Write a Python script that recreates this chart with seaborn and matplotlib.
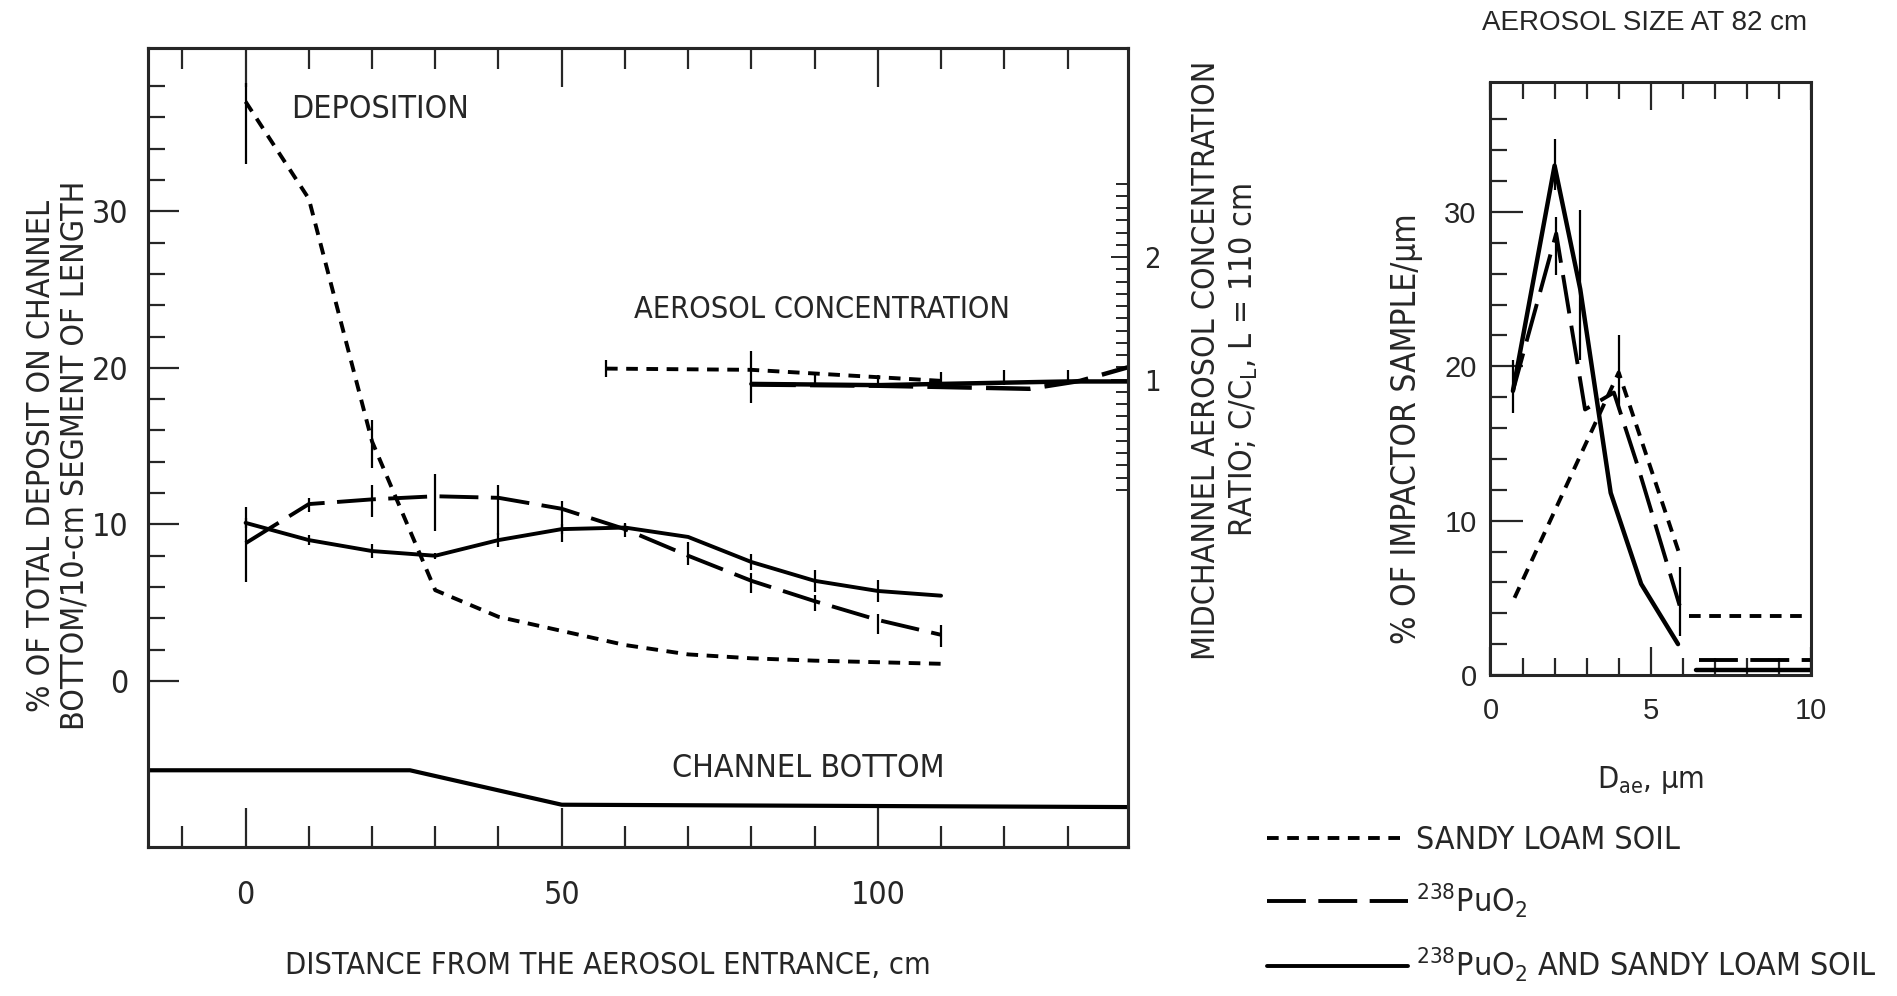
import matplotlib
matplotlib.use("Agg")
import matplotlib.pyplot as plt
from matplotlib.lines import Line2D
from matplotlib import font_manager
import numpy as np
import seaborn as sns

# ---- deposition along the channel (% of total deposit per 10-cm segment) ----
dist = [0, 10, 20, 30, 40, 50, 60, 70, 80, 90, 100, 110]
dep_soil = [37.0, 30.8, 15.3, 5.8, 4.1, 3.2, 2.3, 1.7, 1.45, 1.3, 1.2, 1.1]
dep_soil_lo = [4.0, 0, 1.7, 0, 0, 0, 0, 0, 0, 0, 0, 0]
dep_soil_hi = [1.2, 0, 1.4, 0, 0, 0, 0, 0, 0, 0, 0, 0]
dep_puo2 = [8.8, 11.3, 11.6, 11.8, 11.7, 11.0, 9.7, 8.0, 6.4, 5.1, 3.9, 2.95]
dep_puo2_lo = [2.5, 0.5, 1.1, 2.2, 2.4, 2.1, 0.5, 0.6, 0.8, 0.6, 0.9, 0.75]
dep_puo2_hi = [2.3, 0.4, 0.9, 1.4, 0.8, 0.5, 0.3, 0.9, 0.5, 0.4, 0.4, 0.65]
dep_mix = [10.1, 9.0, 8.3, 8.0, 9.0, 9.7, 9.8, 9.2, 7.6, 6.4, 5.75, 5.45]
dep_mix_err = [0.3, 0.3, 0.45, 0.2, 0.45, 0.3, 0.3, 0.0, 0.5, 0.7, 0.7, 0.0]

# ---- midchannel aerosol concentration ratio C/C_L ----
conc_soil_x = [57, 80, 90, 100, 110]
conc_soil = [1.09, 1.08, 1.05, 1.02, 0.99]
conc_soil_lo = [0.07, 0.27, 0, 0, 0]
conc_soil_hi = [0.07, 0.15, 0, 0, 0]
conc_puo2_x = [80, 90, 100, 110, 124, 132, 139.5]
conc_puo2 = [0.96, 0.955, 0.95, 0.94, 0.925, 0.99, 1.1]
conc_mix_x = [80, 90, 100, 110, 120, 130, 139.5]
conc_mix = [0.965, 0.96, 0.955, 0.965, 0.975, 0.985, 0.985]
conc_mix_lo = [0, 0.02, 0.02, 0.02, 0.02, 0.02, 0]
conc_mix_hi = [0, 0.1, 0.08, 0.1, 0.1, 0.09, 0]

# ---- channel bottom profile (schematic) ----
bottom_x = [-15.5, 26, 50, 139.5]
bottom_y = [-5.7, -5.7, -7.9, -8.05]

# ---- aerosol size distribution at 82 cm ----
size_soil_x = [0.75, 4.0, 5.9]
size_soil = [5.0, 19.6, 7.8]
size_soil_err = [0, 2.4, 0]
size_soil_tail_x = [6.2, 10.0]
size_soil_tail = [3.8, 3.8]
size_puo2_x = [0.7, 2.05, 2.95, 3.85, 4.6, 5.9]
size_puo2 = [18.4, 28.6, 17.2, 18.3, 13.5, 4.5]
size_puo2_lo = [0, 2.7, 0, 0, 0, 2.0]
size_puo2_hi = [0, 1.1, 0, 0, 0, 2.5]
size_puo2_tail_x = [6.5, 10.0]
size_puo2_tail = [1.0, 1.0]
size_mix_x = [0.7, 2.0, 2.8, 3.75, 4.7, 5.85]
size_mix = [18.4, 33.0, 25.0, 11.8, 5.9, 2.0]
size_mix_lo = [1.4, 1.6, 4.6, 0, 0, 0]
size_mix_hi = [2.0, 1.7, 5.1, 0, 0, 0]
size_mix_tail_x = [6.4, 10.0]
size_mix_tail = [0.35, 0.35]

legend_labels = ["SANDY LOAM SOIL", r"$^{238}$PuO$_2$", r"$^{238}$PuO$_2$ AND SANDY LOAM SOIL"]

sns.set_theme(style="ticks")
installed = {f.name for f in font_manager.fontManager.ttflist}
NARROW = [n for n in ["DejaVu Sans Condensed", "Liberation Sans Narrow"] if n in installed] + ["DejaVu Sans"]
REG = ["Liberation Sans", "DejaVu Sans"]
plt.rcParams["font.family"] = NARROW
plt.rcParams["font.stretch"] = "condensed"
plt.rcParams["mathtext.fontset"] = "custom"
plt.rcParams["mathtext.rm"] = NARROW[0]
plt.rcParams["mathtext.it"] = NARROW[0]
plt.rcParams["axes.linewidth"] = 2.2

SHORT = (0, (3.0, 2.2))
LONG = (0, (10, 3.2))
LW = 2.8
EW = 1.6
FS = 23

fig = plt.figure(figsize=(18.97, 9.96), dpi=100)
ax = fig.add_axes([0.0778, 0.1496, 0.5166, 0.8018])
ax2 = ax.twinx()
axs = fig.add_axes([0.7857, 0.3223, 0.1690, 0.5951])


def line(a, x, y, ls, lw=LW):
    sns.lineplot(x=x, y=y, ax=a, color="black", linewidth=lw, linestyle=ls,
                 sort=False, estimator=None, legend=False)


def bars(a, x, y, lo, hi):
    a.errorbar(x, y, yerr=[lo, hi], fmt="none", ecolor="black", elinewidth=EW, capsize=0)


# deposition curves
line(ax, dist, dep_soil, SHORT)
bars(ax, dist, dep_soil, dep_soil_lo, dep_soil_hi)
line(ax, dist, dep_puo2, LONG)
bars(ax, dist, dep_puo2, dep_puo2_lo, dep_puo2_hi)
line(ax, dist, dep_mix, "-")
bars(ax, dist, dep_mix, dep_mix_err, dep_mix_err)
line(ax, bottom_x, bottom_y, "-", lw=3.0)

# concentration ratio on twin axis
line(ax2, conc_soil_x, conc_soil, SHORT)
bars(ax2, conc_soil_x, conc_soil, conc_soil_lo, conc_soil_hi)
line(ax2, conc_puo2_x, conc_puo2, LONG, lw=3.2)
line(ax2, conc_mix_x, conc_mix, "-", lw=3.2)
bars(ax2, conc_mix_x, conc_mix, conc_mix_lo, conc_mix_hi)

ax.set_xlim(-15.5, 139.5)
ax.set_ylim(-10.6, 40.4)
ax2.set_ylim(-2.817, 3.705)

ax.set_xticks([0, 50, 100])
ax.set_xticks([x for x in range(-10, 140, 10) if x % 50], minor=True)
ax.set_yticks([0, 10, 20, 30])
ax.set_yticks([y for y in range(2, 40, 2) if y % 10], minor=True)
ax.tick_params(axis="x", which="both", direction="in", top=True, bottom=True, width=1.6,
               labelsize=FS, pad=24)
ax.tick_params(axis="x", which="major", length=28)
ax.tick_params(axis="x", which="minor", length=15)
ax.tick_params(axis="y", which="both", direction="in", left=True, right=False, width=1.6,
               labelsize=FS, pad=14)
ax.tick_params(axis="y", which="major", length=22)
ax.tick_params(axis="y", which="minor", length=12)

ax2.set_yticks([1, 2])
ax2.set_yticks([v for v in np.round(np.arange(0.1, 2.65, 0.1), 1) if v not in (1.0, 2.0)], minor=True)
ax2.tick_params(axis="y", which="both", direction="in", width=1.4, labelsize=21, pad=12)
ax2.tick_params(axis="y", which="major", length=12)
ax2.tick_params(axis="y", which="minor", length=9)

ax.set_xlabel("DISTANCE FROM THE AEROSOL ENTRANCE, cm", fontsize=22)
ax.xaxis.set_label_coords(0.47, -0.13)
ax.set_ylabel("% OF TOTAL DEPOSIT ON CHANNEL\nBOTTOM/10-cm SEGMENT OF LENGTH", fontsize=FS,
              linespacing=1.1)
ax.yaxis.set_label_coords(-0.058, 0.49)
ax2.set_ylabel("MIDCHANNEL AEROSOL CONCENTRATION\nRATIO; C/C$_L$, L = 110 cm", fontsize=FS,
               linespacing=1.2)
ax2.yaxis.set_label_coords(1.065, 0.61)

ax.text(7.2, 36.5, "DEPOSITION", fontsize=FS, va="center")
ax.text(61.5, 23.7, "AEROSOL CONCENTRATION", fontsize=22, va="center")
ax.text(67.4, -5.6, "CHANNEL BOTTOM", fontsize=FS, va="center")

# size distribution panel
line(axs, size_soil_x, size_soil, SHORT)
bars(axs, size_soil_x, size_soil, size_soil_err, size_soil_err)
line(axs, size_soil_tail_x, size_soil_tail, SHORT)
line(axs, size_puo2_x, size_puo2, LONG)
bars(axs, size_puo2_x, size_puo2, size_puo2_lo, size_puo2_hi)
line(axs, size_puo2_tail_x, size_puo2_tail, LONG)
line(axs, size_mix_x, size_mix, "-", lw=3.2)
bars(axs, size_mix_x, size_mix, size_mix_lo, size_mix_hi)
line(axs, size_mix_tail_x, size_mix_tail, "-", lw=3.2)

axs.set_xlim(0, 10)
axs.set_ylim(0, 38.4)
axs.set_xticks([0, 5, 10])
axs.set_xticks([1, 2, 3, 4, 6, 7, 8, 9], minor=True)
axs.set_yticks([0, 10, 20, 30])
axs.set_yticks([y for y in range(2, 38, 2) if y % 10], minor=True)
for lab in axs.get_xticklabels() + axs.get_yticklabels():
    lab.set_family(REG)
    lab.set_stretch("normal")
axs.tick_params(axis="x", which="both", direction="in", top=True, bottom=True, width=1.6,
                labelsize=21, pad=16)
axs.tick_params(axis="x", which="major", length=20)
axs.tick_params(axis="x", which="minor", length=12)
axs.tick_params(axis="y", which="both", direction="in", left=True, right=False, width=1.6,
                labelsize=21, pad=10)
axs.tick_params(axis="y", which="major", length=24)
axs.tick_params(axis="y", which="minor", length=12)
axs.set_xlabel(r"D$_{ae}$, $\mu$m", fontsize=22)
axs.xaxis.set_label_coords(0.5, -0.15)
axs.set_ylabel("% OF IMPACTOR SAMPLE/μm", fontsize=24)
axs.yaxis.set_label_coords(-0.21, 0.415)
axs.text(0.48, 1.10, "AEROSOL SIZE AT 82 cm", transform=axs.transAxes, fontsize=20,
         family=REG, stretch="normal", ha="center", va="center")

handles = [Line2D([], [], color="black", lw=LW, linestyle=SHORT),
           Line2D([], [], color="black", lw=LW, linestyle=LONG),
           Line2D([], [], color="black", lw=LW, linestyle="-")]
fig.legend(handles, legend_labels, loc="upper left", bbox_to_anchor=(0.668, 0.172),
           frameon=False, fontsize=23, handlelength=4.4, handletextpad=0.25,
           labelspacing=0.82, borderpad=0, borderaxespad=0)

fig.savefig("out.png", dpi=100)
